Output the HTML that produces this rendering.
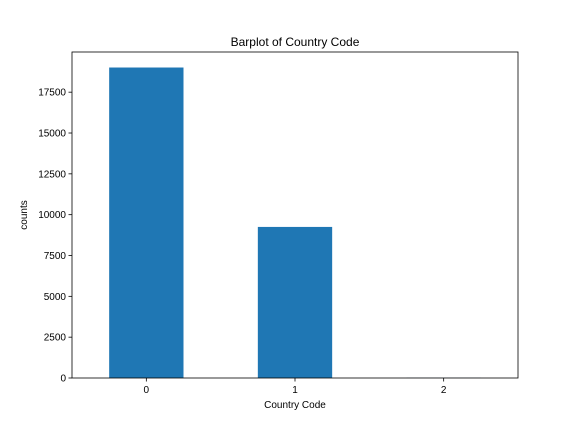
<!DOCTYPE html>
<html><head><meta charset="utf-8"><style>
body{margin:0;background:#fff}
svg text{font-family:"Liberation Sans","DejaVu Sans",sans-serif;fill:#000}
</style></head><body>
<svg id="c" width="576" height="432" viewBox="0 0 576 432">
<rect width="576" height="432" fill="#fff"/>
<g id="plot"></g>
</svg>
<script>
const categories=["0","1","2"];
const counts=[19010,9250,10];
const yTicks=[0,2500,5000,7500,10000,12500,15000,17500];
const L=72,R=518,T=52,B=378;
const yMax=19960;
const x=i=>L+(i+0.5)*(R-L)/categories.length;
const y=v=>B-v*(B-T)/yMax;
const ns="http://www.w3.org/2000/svg";
const g=document.getElementById('plot');
function mk(t,a,txt){const e=document.createElementNS(ns,t);for(const k in a)e.setAttribute(k,a[k]);if(txt!==undefined)e.textContent=txt;g.appendChild(e);return e;}
const bw=0.5*(R-L)/categories.length;
counts.forEach((v,i)=>{
 const r=mk('rect',{x:x(i)-bw/2,y:y(v),width:bw,height:B-y(v),fill:'#1f77b4'});
 
 
});
yTicks.forEach(t=>{
 const l=mk('line',{x1:L-3.5,x2:L,y1:y(t),y2:y(t),stroke:'#000','stroke-width':0.8});
 
 
 const s=mk('text',{x:L-6,y:y(t)+3.5,'text-anchor':'end','font-size':10},String(t));
 
 
});
categories.forEach((c,i)=>{
 const l=mk('line',{x1:x(i),x2:x(i),y1:B,y2:B+3.5,stroke:'#000','stroke-width':0.8});
 
 
 const s=mk('text',{x:x(i),y:B+15,'text-anchor':'middle','font-size':10},c);
 
 
});
const f=mk('rect',{x:L,y:T,width:R-L,height:B-T,fill:'none',stroke:'#000','stroke-width':0.8});


const tt=mk('text',{x:(L+R)/2,y:T-6,'text-anchor':'middle','font-size':12},'Barplot of Country Code');


const xt=mk('text',{x:(L+R)/2,y:B+30,'text-anchor':'middle','font-size':10},'Country Code');


const yt=mk('text',{x:0,y:0,'text-anchor':'middle','font-size':10,transform:`translate(27,${(T+B)/2}) rotate(-90)`},'counts');


</script>
</body></html>
